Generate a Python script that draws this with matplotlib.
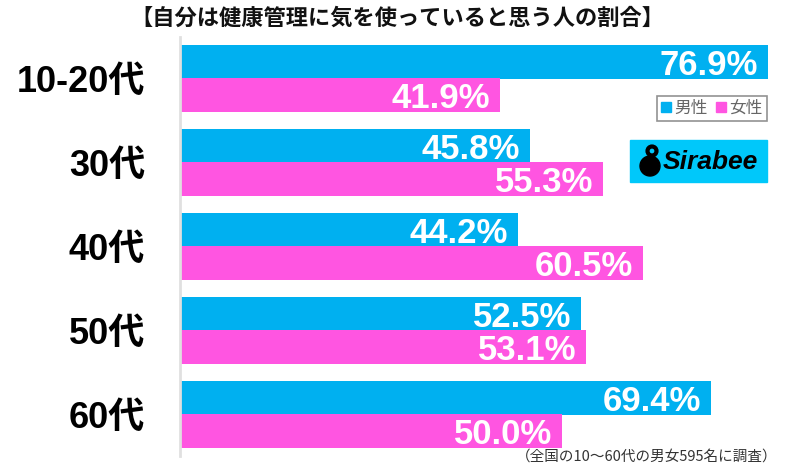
"""
Health management self-assessment chart.
"""

import matplotlib
matplotlib.use("Agg")
import matplotlib.pyplot as plt
from matplotlib.patches import Rectangle, Ellipse
from matplotlib.lines import Line2D
import numpy as np

categories = ["10-20代", "30代", "40代", "50代", "60代"]
male = [76.9, 45.8, 44.2, 52.5, 69.4]
female = [41.9, 55.3, 60.5, 53.1, 50.0]

title = "【自分は健康管理に気を使っていると思う人の割合】"
note = "（全国の10～60代の男女595名に調査）"

MALE_COLOR = "#00B0F0"
FEMALE_COLOR = "#FF55E1"
JP = ["Noto Sans CJK JP", "DejaVu Sans"]
NUM = ["Liberation Sans", "Noto Sans CJK JP", "DejaVu Sans"]

plt.rcParams["font.family"] = JP

W, H = 800, 466
fig = plt.figure(figsize=(8, 4.66), dpi=100)
ax = fig.add_axes([180 / W, 1 - 456 / H, 615 / W, 419 / H])

y = np.arange(len(categories))
ax.barh(y - 0.198, male, height=0.4, color=MALE_COLOR)
ax.barh(y + 0.198, female, height=0.4, color=FEMALE_COLOR)

ax.set_xlim(0, 615 / 7.646)
ax.set_ylim(len(categories) - 0.506, -0.494)

for i in range(len(categories)):
    ax.text(male[i] - 1.3, y[i] - 0.198, f"{male[i]:.1f}%", ha="right",
            va="center_baseline", color="white", fontsize=25,
            fontweight="bold", family=NUM)
    ax.text(female[i] - 1.3, y[i] + 0.198, f"{female[i]:.1f}%", ha="right",
            va="center_baseline", color="white", fontsize=25,
            fontweight="bold", family=NUM)

ax.set_yticks(y)
ax.set_yticklabels(categories, fontsize=26, fontweight="bold", family=NUM)
ax.tick_params(axis="y", length=0, pad=25)
ax.set_xticks([])

for side in ["top", "right", "bottom"]:
    ax.spines[side].set_visible(False)
ax.spines["left"].set_color("#e0e0e0")
ax.spines["left"].set_linewidth(2)

# legend
handles = [
    Line2D([], [], marker="s", linestyle="", markersize=7,
           color=MALE_COLOR, label="男性"),
    Line2D([], [], marker="s", linestyle="", markersize=7,
           color=FEMALE_COLOR, label="女性"),
]
leg = fig.legend(handles=handles, loc="upper right",
                 bbox_to_anchor=(767 / W, 1 - 96 / H), ncol=2,
                 fontsize=12, frameon=True, fancybox=False,
                 handlelength=0.6, handletextpad=0.2, columnspacing=0.5,
                 borderpad=0.25, borderaxespad=0)
leg.get_frame().set_edgecolor("#777777")
leg.get_frame().set_linewidth(1.2)
for t in leg.get_texts():
    t.set_color("#666666")

# logo
fig.patches.append(Rectangle((630 / W, 1 - 182 / H), 137 / W, 42 / H,
                             transform=fig.transFigure, color="#00C8FA",
                             zorder=5))
fig.patches.append(Ellipse((650 / W, 1 - 166 / H), 20 / W, 20 / H,
                           transform=fig.transFigure, color="black",
                           zorder=6))
fig.patches.append(Ellipse((652 / W, 1 - 151 / H), 9 / W, 9 / H,
                           transform=fig.transFigure, facecolor="none",
                           edgecolor="black", linewidth=3, zorder=6))
fig.text(663 / W, 1 - 162 / H, "Sirabee", fontsize=19, fontweight="bold",
         style="italic", family=NUM, va="center", ha="left", color="black",
         zorder=7)

fig.text(397 / W, 1 - 18 / H, title, ha="center", va="center",
         fontsize=16, fontweight="bold", color="#111111")
fig.text(778 / W, 1 - 457 / H, note, ha="right", va="center",
         fontsize=10.5, color="#333333")

fig.savefig("out.png", dpi=100)
